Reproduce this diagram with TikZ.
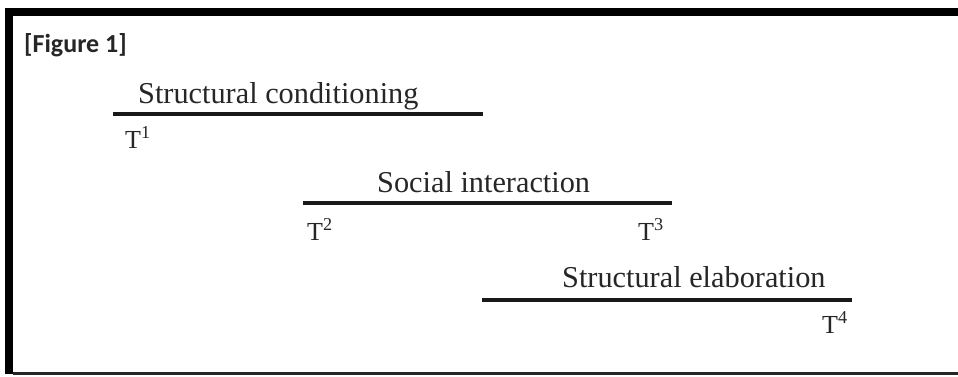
\documentclass[tikz,border=0pt]{standalone}
\usepackage{fontspec}
\setmainfont{Liberation Serif}
\newfontfamily\figfont{Carlito}
\begin{document}
\begin{tikzpicture}[x=1pt,y=-1pt,
  lbl/.style={anchor=base west,inner sep=0pt,text=black!85,font=\fontsize{30.3}{35}\selectfont},
  tlbl/.style={anchor=base west,inner sep=0pt,text=black!85,font=\fontsize{26}{31}\selectfont},
  bar/.style={line width=3.5pt,black!90},
  frame/.style={fill=black}]
\useasboundingbox (0,0) rectangle (958,376);
\fill[white] (0,0) rectangle (958,376);
% frame
\fill[frame] (5,8) rectangle (958,16);
\fill[frame] (5,8) rectangle (13,374);
\fill[black!85] (13,372) rectangle (958,374.5);
% title
\node[anchor=base west,inner sep=0pt,text=black!85,font=\figfont\bfseries\fontsize{26}{30}\selectfont] (fig) at (24,52) {[Figure 1]};
% bar 1
\coordinate (a1) at (113,114);
\coordinate (b1) at (483,114);
\draw[bar] (a1) -- (b1);
\node[lbl] (sc) at (138,103) {Structural conditioning};
\node[tlbl] (t1) at (125,148) {T\textsuperscript{1}};
% bar 2
\coordinate (a2) at (303,203);
\coordinate (b2) at (672,203);
\draw[bar] (a2) -- (b2);
\node[lbl] (si) at (377,192) {Social interaction};
\node[tlbl] (t2) at (307,240) {T\textsuperscript{2}};
\node[tlbl] (t3) at (638,240) {T\textsuperscript{3}};
% bar 3
\coordinate (a3) at (482,300);
\coordinate (b3) at (852,300);
\draw[bar] (a3) -- (b3);
\node[lbl] (se) at (562,287) {Structural elaboration};
\node[tlbl] (t4) at (822,333) {T\textsuperscript{4}};
\end{tikzpicture}
\end{document}
